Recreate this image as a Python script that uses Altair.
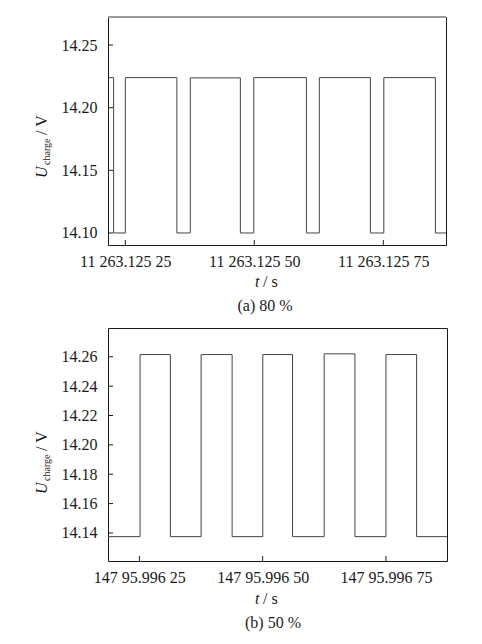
import altair as alt
import pandas as pd

FONT = "Liberation Serif"
INK = "#1a1a1a"
LINE = "#444444"

# Panel (a) 80 %: step edges (offset in 1e-5 s after 11 263.125) and voltage level from each edge
a_time = [21.65, 22.74, 25.0, 35.0, 37.6, 47.3, 49.9, 60.1, 62.6, 72.5, 75.1, 85.1, 87.15]
a_volt = [14.224, 14.100, 14.224, 14.100, 14.2238, 14.100, 14.224, 14.100, 14.224, 14.100, 14.224, 14.100, 14.100]
a_xticks = [25, 50, 75]
a_yticks = [14.10, 14.15, 14.20, 14.25]
a_xdom = [21.65, 87.15]
a_ydom = [14.0904, 14.2724]

# Panel (b) 50 %: offsets after 147 95.996
b_time = [18.64, 25.14, 31.29, 37.52, 43.81, 50.03, 56.06, 62.48, 68.71, 75.0, 81.22, 87.38]
b_volt = [14.1375, 14.2615, 14.1375, 14.2615, 14.1375, 14.2615, 14.1375, 14.262, 14.1375, 14.2615, 14.1375, 14.1375]
b_xticks = [25, 50, 75]
b_yticks = [14.14, 14.16, 14.18, 14.20, 14.22, 14.24, 14.26]
b_xdom = [18.64, 87.38]
b_ydom = [14.1209, 14.2796]

LABEL_SIZE = 16


def txt(s, x, y, size, italic=False, angle=0, align="left"):
    return alt.Chart(alt.Data(values=[{}])).mark_text(
        text=s, font=FONT, fontSize=size,
        fontStyle="italic" if italic else "normal",
        angle=angle, align=align, baseline="alphabetic", color=INK,
    ).encode(x=alt.value(x), y=alt.value(y))


def panel(times, volts, xticks, yticks, xdom, ydom, prefix, w, h,
          ytitle_y, xtitle_y, cap_x, cap_y, caption, thick_top):
    df = pd.DataFrame({"t": times, "u": volts})
    xs = alt.Scale(domain=xdom, nice=False, zero=False)
    ys = alt.Scale(domain=ydom, nice=False, zero=False)
    xax = alt.Axis(
        values=xticks, labelExpr=f"'{prefix}' + datum.value", title=None,
        ticks=False, tickSize=0, domain=False, grid=False, labelFlush=False,
        labelOverlap=False, labelPadding=8, labelFontSize=LABEL_SIZE, labelFont=FONT,
        labelColor=INK)
    yax = alt.Axis(
        values=yticks, format=".2f", title=None,
        ticks=False, tickSize=0, domain=False, grid=False, labelOverlap=False,
        labelPadding=11, labelFontSize=LABEL_SIZE, labelFont=FONT, labelColor=INK)
    line = alt.Chart(df).mark_line(
        interpolate="step-after", color=LINE, strokeWidth=1
    ).encode(
        x=alt.X("t:Q", scale=xs, axis=xax, title=None),
        y=alt.Y("u:Q", scale=ys, axis=yax, title=None),
    )
    ytk = alt.Chart(pd.DataFrame({"u": yticks})).mark_rule(color=INK, strokeWidth=1).encode(
        y=alt.Y("u:Q", scale=ys, axis=yax, title=None), x=alt.value(0), x2=alt.value(5))
    xtk = alt.Chart(pd.DataFrame({"t": xticks})).mark_rule(color=INK, strokeWidth=1).encode(
        x=alt.X("t:Q", scale=xs, axis=xax, title=None), y=alt.value(h), y2=alt.value(h - 5))
    layers = [line, ytk, xtk,
              txt("U", -61, ytitle_y, 16, italic=True, angle=270),
              txt("charge", -58, ytitle_y - 13, 10, angle=270),
              txt("/ V", -61, ytitle_y - 43, 16, angle=270),
              txt("t", 147, xtitle_y, 16, italic=True),
              txt("/ s", 155, xtitle_y, 16),
              txt(caption, cap_x, cap_y, 16, align="center")]
    if thick_top:
        layers.append(alt.Chart(alt.Data(values=[{}])).mark_rule(
            color="#9a9a9a", strokeWidth=2).encode(
            x=alt.value(0), x2=alt.value(w), y=alt.value(0)))
    return alt.layer(*layers).properties(width=w, height=h)


pa = panel(a_time, a_volt, a_xticks, a_yticks, a_xdom, a_ydom, "11 263.125 ",
           338, 228, 161, 270, 157, 294, "(a) 80 %", True)
pb = panel(b_time, b_volt, b_xticks, b_yticks, b_xdom, b_ydom, "147 95.996 ",
           339, 233, 166, 276, 165, 300, "(b) 50 %", False)

chart = alt.vconcat(pa, pb, spacing=12).properties(
    padding={"left": 25, "top": 7, "right": 5, "bottom": 5}
).configure(
    background="white", font=FONT
).configure_view(stroke=INK, strokeWidth=1).configure_axis(
    labelFont=FONT, labelFontSize=LABEL_SIZE, labelColor=INK
).configure_text(font=FONT)

chart.save("out.html", embed_options={"renderer": "svg", "actions": False})
